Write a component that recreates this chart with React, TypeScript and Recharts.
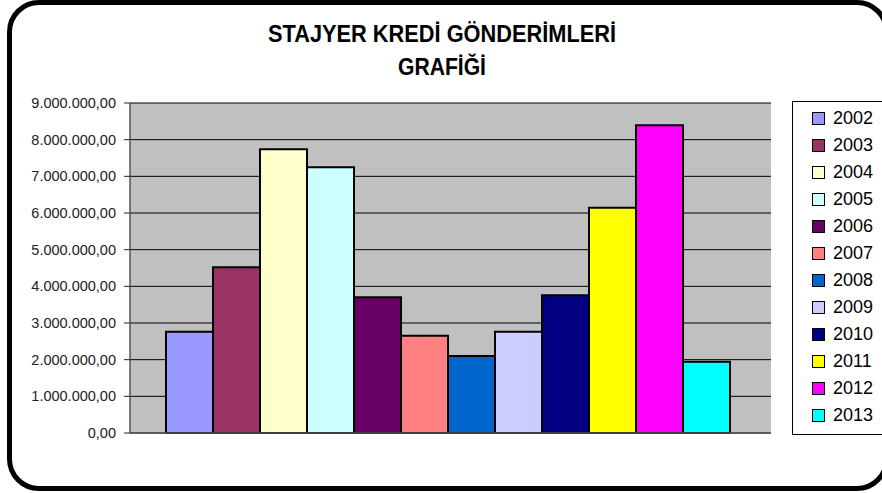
import React from "react";
import { BarChart, Bar, XAxis, YAxis, CartesianGrid, Legend } from "recharts";

const years = ["2002", "2003", "2004", "2005", "2006", "2007", "2008", "2009", "2010", "2011", "2012", "2013"];
const amounts = [2760000, 4520000, 7740000, 7250000, 3700000, 2650000, 2100000, 2760000, 3760000, 6140000, 8390000, 1940000];
const colors = ["#9999FF", "#993366", "#FFFFCC", "#CCFFFF", "#660066", "#FF8080", "#0066CC", "#CCCCFF", "#000080", "#FFFF00", "#FF00FF", "#00FFFF"];
const yTicks = [0, 1000000, 2000000, 3000000, 4000000, 5000000, 6000000, 7000000, 8000000, 9000000];

const row: Record<string, string | number> = { name: "Stajyer" };
years.forEach((y, i) => {
  row["y" + y] = amounts[i];
});
const data = [row];

const font = "'Liberation Sans', Arial, sans-serif";

// 9000000 -> "9.000.000,00"
const formatTr = (v: number) => {
  const [whole, dec] = v.toFixed(2).split(".");
  return whole.replace(/\B(?=(\d{3})+(?!\d))/g, ".") + "," + dec;
};

const YTick = (props: any) => {
  const { x, y, payload } = props;
  return (
    <text x={x} y={y} dy={5} textAnchor="end" fontSize={14.5} fill="#222" fontFamily={font}>
      {formatTr(payload.value)}
    </text>
  );
};

const LegendBox = (props: any) => {
  const items = props.payload || [];
  return (
    <div
      style={{
        border: "1px solid #000",
        background: "#fff",
        width: 120,
        height: 334,
        boxSizing: "border-box",
        paddingTop: 3,
        fontFamily: font,
      }}
    >
      {items.map((e: any) => (
        <div key={e.value} style={{ display: "flex", alignItems: "center", height: 27 }}>
          <span
            style={{
              display: "inline-block",
              width: 11,
              height: 11,
              marginLeft: 19,
              background: e.color,
              border: "1.5px solid #000",
            }}
          />
          <span style={{ marginLeft: 8, fontSize: 18, color: "#000" }}>{e.value}</span>
        </div>
      ))}
    </div>
  );
};

export default function App() {
  return (
    <div style={{ position: "fixed", left: 0, top: 0, width: 882, height: 493, overflow: "hidden", background: "#fff" }}>
      <BarChart
        width={882}
        height={493}
        data={data}
        margin={{ top: 103, right: 111, bottom: 54, left: 0 }}
        barCategoryGap={36}
        barGap={0}
      >
        <CartesianGrid vertical={false} stroke="#000" fill="#C0C0C0" fillOpacity={1} />
        <XAxis dataKey="name" tick={false} tickLine={false} height={6} axisLine={{ stroke: "#555", strokeWidth: 1.5 }} />
        <YAxis
          domain={[0, 9000000]}
          ticks={yTicks}
          width={130}
          tickSize={6}
          tickMargin={8}
          tick={<YTick />}
          interval={0}
          axisLine={{ stroke: "#555", strokeWidth: 1.5 }}
          tickLine={{ stroke: "#222" }}
        />
        <YAxis yAxisId="right" orientation="right" width={0} tick={false} tickLine={false} axisLine={{ stroke: "#888" }} />
        <Legend
          layout="horizontal"
          verticalAlign="middle"
          align="center"
          content={<LegendBox />}
          wrapperStyle={{ position: "absolute", left: 792, top: 101, width: 120, height: 334 }}
        />
        {years.map((y, i) => (
          <Bar
            key={y}
            dataKey={"y" + y}
            name={y}
            fill={colors[i]}
            stroke="#000"
            strokeWidth={2}
            isAnimationActive={false}
          />
        ))}
      </BarChart>
      <svg width={882} height={100} style={{ position: "absolute", left: 0, top: 0 }}>
        <text x={442} y={42} textAnchor="middle" fontSize={23} fontWeight="bold" fontFamily={font} textLength={348} lengthAdjust="spacingAndGlyphs" fill="#000">
          STAJYER KREDİ GÖNDERİMLERİ
        </text>
        <text x={442} y={75} textAnchor="middle" fontSize={23} fontWeight="bold" fontFamily={font} textLength={88} lengthAdjust="spacingAndGlyphs" fill="#000">
          GRAFİĞİ
        </text>
      </svg>
      <div
        style={{
          position: "absolute",
          left: 7,
          top: 0,
          width: 882,
          height: 491,
          boxSizing: "border-box",
          border: "5px solid #000",
          borderRadius: 32,
          pointerEvents: "none",
        }}
      />
    </div>
  );
}
